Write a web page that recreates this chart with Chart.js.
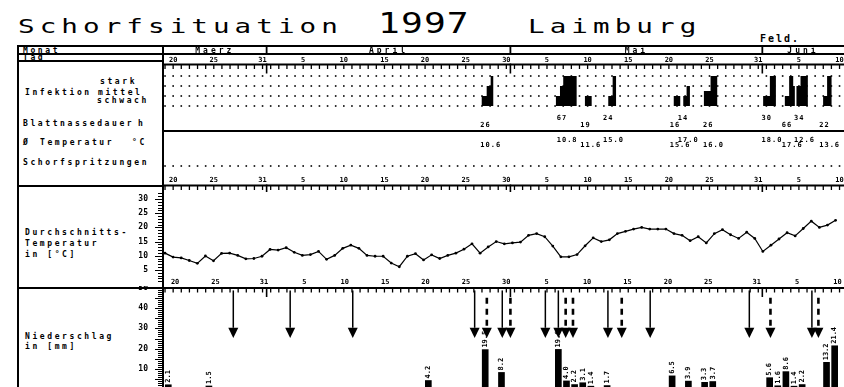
<!DOCTYPE html>
<html lang="de">
<head>
<meta charset="utf-8">
<title>Schorfsituation 1997 Laimburg</title>
<script src="https://cdn.jsdelivr.net/npm/chart.js@4.4.1/dist/chart.umd.min.js"></script>
<style>
  html, body { margin: 0; padding: 0; background: #fff; }
  #page { position: relative; width: 844px; height: 387px; overflow: hidden; background: #fff;
          font-family: "DejaVu Sans Mono", monospace; color: #000; }
  .title { position: absolute; white-space: nowrap; line-height: 1; transform-origin: 0 0; }
  .big { font-size: 19px; letter-spacing: 3.5px; transform: scaleX(1.45); }
  .year { font-size: 29px; letter-spacing: 0.9px; transform: scaleX(1.25); }
  .lab { position: absolute; white-space: nowrap; line-height: 1; font-size: 8px; font-weight: bold; letter-spacing: 2.6px; }
  .rule { position: absolute; background: #000; }
  canvas { position: absolute; left: 0; }
</style>
</head>
<body>
<div id="page">
  <div class="title big" style="left:18px; top:17px;">Schorfsituation</div>
  <div class="title year" style="left:378px; top:9px;">1997</div>
  <div class="title big" style="left:528px; top:17px;">Laimburg</div>
  <div class="lab" style="left:760px; top:33.5px; font-size:10px; letter-spacing:2px;">Feld.</div>

  <!-- frame of the table -->
  <div class="rule" style="left:17px; top:45px; width:827px; height:2px;"></div>
  <div class="rule" style="left:17px; top:53px; width:827px; height:1.5px;"></div>
  <div class="rule" style="left:17px; top:60px; width:146px; height:1.5px;"></div>
  <div class="rule" style="left:17px; top:45px; width:2px; height:342px;"></div>
  <div class="rule" style="left:162px; top:45px; width:2px; height:342px;"></div>
  <div class="rule" style="left:17px; top:185px; width:146px; height:2px;"></div>
  <div class="rule" style="left:17px; top:287px; width:146px; height:2px;"></div>

  <!-- row captions -->
  <div class="lab" style="left:23px; top:46.5px;">Monat</div>
  <div class="lab" style="left:23px; top:53.6px;">Tag</div>
  <div class="lab" style="left:100px; top:78.2px;">stark</div>
  <div class="lab" style="left:25px; top:89.2px;">Infektion</div>
  <div class="lab" style="left:98px; top:89.2px;">mittel</div>
  <div class="lab" style="left:97px; top:97.2px;">schwach</div>
  <div class="lab" style="left:23px; top:120.2px;">Blattnassedauer</div>
  <div class="lab" style="left:138px; top:120.2px;">h</div>
  <div class="lab" style="left:23px; top:139.2px;">Ø</div>
  <div class="lab" style="left:40px; top:139.2px;">Temperatur</div>
  <div class="lab" style="left:132px; top:139.2px;">°C</div>
  <div class="lab" style="left:23px; top:159.2px;">Schorfspritzungen</div>
  <div class="lab" style="left:25px; top:228.7px;">Durchschnitts-</div>
  <div class="lab" style="left:25px; top:240.2px;">Temperatur</div>
  <div class="lab" style="left:25px; top:250.7px;">in [°C]</div>
  <div class="lab" style="left:25px; top:332.7px;">Niederschlag</div>
  <div class="lab" style="left:25px; top:342.7px;">in [mm]</div>

  <canvas id="cTop" width="844" height="148" style="top:44px;"></canvas>
  <canvas id="cTemp" width="844" height="100" style="top:188px;"></canvas>
  <canvas id="cRain" width="844" height="110" style="top:286px;"></canvas>
</div>

<script>
// ---- calendar: 19. Maerz to 10. Juni, day index 0 = 19.3. ----
const monthNames = ['Maerz', 'April', 'Mai', 'Juni'];
const monthLengths = [31, 30, 31, 30];
const firstDay = 19;
const dayCount = 84;

// daily mean temperature in °C, one value per day from 19.3.
const meanTemp = [
  10.9, 9.5, 9.2, 8.3, 7.3, 9.9, 8.2, 10.8, 10.9, 10.1, 8.9, 9.0, 9.8,
  12.2, 12.0, 12.8, 11.2, 10.1, 10.4, 11.5, 8.7, 10.1, 12.6, 13.7, 12.6, 10.1,
  9.8, 9.8, 7.4, 6.1, 9.8, 10.7, 8.5, 10.3, 9.0, 10.1, 10.9, 12.3, 14.2,
  10.9, 13.1, 15.0, 14.2, 14.5, 14.8, 17.2, 17.8, 16.7, 13.4, 9.6, 9.6, 10.4,
  13.5, 16.3, 15.0, 15.6, 17.8, 18.6, 19.4, 20.0, 19.4, 19.4, 19.4, 17.8, 17.2,
  15.3, 16.7, 14.5, 17.8, 19.2, 17.4, 16.1, 18.3, 16.1, 11.5, 13.7, 15.9, 18.1,
  17.0, 19.6, 22.2, 20.0, 20.8, 22.5
];

// precipitation: day index and amount in mm
const rainDays = [0, 5, 32, 39, 41, 48, 49, 50, 51, 52, 54, 62, 64, 66, 67, 74, 75, 76, 77, 78, 81, 82];
const rainMm   = [2.1, 1.5, 4.2, 19.5, 8.2, 19.6, 4.0, 2.2, 3.1, 1.4, 1.7, 6.5, 3.9, 3.3, 3.7, 5.6, 1.6, 8.6, 1.4, 2.2, 13.2, 21.4];

// infection periods: start / end (day index) and strength 1 schwach, 2 mittel, 3 stark
const infStart = [38.97, 39.58, 40.07, 48.10, 48.60, 49.00, 51.67, 54.54, 55.08, 62.60, 63.77, 64.18,
                  66.31, 67.13, 73.60, 74.43, 76.27, 76.80, 77.30, 77.70, 78.20, 80.98, 81.47];
const infEnd   = [39.58, 40.07, 40.39, 48.60, 49.00, 50.65, 52.50, 55.08, 55.50, 63.40, 64.18, 64.59,
                  67.13, 67.95, 74.43, 75.17, 76.80, 77.30, 77.50, 78.20, 79.10, 81.47, 82.02];
const infLevel = [1, 2, 3, 1, 2, 3, 1, 1, 3, 1, 1, 2,
                  1.5, 3, 1, 3, 1, 3, 2, 2, 3, 1, 3];

// infection events: leaf wetness duration (h) and mean temperature (°C)
const eventDay  = [38.8, 48.2, 51.1, 53.9, 62.1, 63.1, 66.2, 73.4, 75.9, 77.4, 80.5];
const wetHours  = [26, 67, 19, 24, 16, 14, 26, 30, 66, 34, 22];
const eventTemp = [10.6, 10.8, 11.6, 15.0, 15.6, 17.0, 16.0, 18.0, 17.6, 12.6, 13.6];

// scab sprays (solid arrows) and dashed arrows
const sprayDays       = [8.4, 15.4, 23.1, 38.1, 41.5, 46.8, 48.4, 54.5, 59.7, 71.9, 79.6];
const sprayDaysDashed = [39.6, 42.5, 49.3, 50.2, 56.2, 74.5, 80.4];

// ---- shared settings ----
const FONT = '"DejaVu Sans Mono", monospace';
const X_MIN = -0.25, X_MAX = 83.55;
const BAR_SHIFT = 0.4;
Chart.defaults.font.family = FONT;
Chart.defaults.color = '#000';

const calendar = [];
{
  let m = 0, dom = firstDay;
  for (let i = 0; i < dayCount; i++) {
    calendar.push({ dom, m });
    dom++;
    if (dom > monthLengths[m]) { dom = 1; m++; }
  }
}
const labelled = c => (c.dom % 5 === 0 && c.dom < 30) || c.dom === monthLengths[c.m];
const monthEnds = calendar.map((c, i) => c.dom === monthLengths[c.m] ? i : -1).filter(i => i >= 0);

function xAxis() {
  return { type: 'linear', min: X_MIN, max: X_MAX, display: false, offset: false };
}

function font(size, weight) { return (weight || 'bold') + ' ' + size + 'px ' + FONT; }

// horizontal day ruler with a tick per day, long ticks at month ends
function dayRuler(chart, y, labelY) {
  const ctx = chart.ctx, xs = chart.scales.x, a = chart.chartArea;
  ctx.save();
  ctx.strokeStyle = '#000';
  ctx.fillStyle = '#000';
  ctx.lineWidth = 1.8;
  ctx.beginPath(); ctx.moveTo(a.left, y); ctx.lineTo(a.right, y); ctx.stroke();
  ctx.lineWidth = 1.3;
  for (let i = 0; i < dayCount; i++) {
    const x = xs.getPixelForValue(i);
    ctx.beginPath(); ctx.moveTo(x, y); ctx.lineTo(x, y + 4.5); ctx.stroke();
  }
  ctx.lineWidth = 1.6;
  monthEnds.forEach(i => {
    const x = xs.getPixelForValue(i + 0.5);
    ctx.beginPath(); ctx.moveTo(x, y - 1); ctx.lineTo(x, y + 9); ctx.stroke();
  });
  if (labelY !== null && labelY !== undefined) {
    ctx.font = font(7);
    ctx.textAlign = 'center';
    ctx.textBaseline = 'middle';
    calendar.forEach((c, i) => {
      if (labelled(c)) ctx.fillText(String(c.dom), xs.getPixelForValue(i), labelY);
    });
  }
  ctx.restore();
}

function dottedRow(chart, y) {
  const ctx = chart.ctx, xs = chart.scales.x;
  ctx.save();
  ctx.fillStyle = '#000';
  for (let i = 0; i < dayCount; i++) {
    const x = xs.getPixelForValue(i);
    ctx.fillRect(x - 0.8, y - 0.8, 1.6, 1.6);
  }
  ctx.restore();
}

// short and long ticks along the value axis
function valueRuler(chart) {
  const ctx = chart.ctx, ys = chart.scales.y, left = chart.chartArea.left;
  ctx.save();
  ctx.strokeStyle = '#000';
  ctx.lineWidth = 1;
  for (let v = 1; v <= ys.max; v++) {
    const y = Math.round(ys.getPixelForValue(v)) + 0.5;
    const len = v % 5 === 0 ? 8 : 5;
    ctx.beginPath(); ctx.moveTo(left - len, y); ctx.lineTo(left, y); ctx.stroke();
  }
  ctx.restore();
}

// ---- top block: months, days, infection bars, leaf wetness, temperatures ----
const infPoints = [{ x: X_MIN, y: 0 }];
for (let k = 0; k < infStart.length; k++) {
  infPoints.push({ x: infStart[k], y: infLevel[k] });
  const next = infStart[k + 1];
  if (next === undefined || next > infEnd[k] + 1e-6) infPoints.push({ x: infEnd[k], y: 0 });
}
infPoints.push({ x: X_MAX, y: 0 });

const topTable = {
  id: 'topTable',
  beforeDatasetsDraw(chart) {
    const ys = chart.scales.y;
    [0, 1, 2, 3].forEach(l => dottedRow(chart, ys.getPixelForValue(l)));
    dottedRow(chart, 122);
  },
  afterDraw(chart) {
    const ctx = chart.ctx, xs = chart.scales.x, a = chart.chartArea;
    // month row
    ctx.save();
    ctx.strokeStyle = '#000';
    ctx.fillStyle = '#000';
    ctx.lineWidth = 1.8;
    monthEnds.forEach(i => {
      const x = xs.getPixelForValue(i + 0.5);
      ctx.beginPath(); ctx.moveTo(x, 2); ctx.lineTo(x, 10); ctx.stroke();
    });
    ctx.font = font(8);
    ctx.letterSpacing = '3px';
    ctx.textAlign = 'center';
    ctx.textBaseline = 'middle';
    monthNames.forEach((name, m) => {
      const idx = calendar.map((c, i) => c.m === m ? i : -1).filter(i => i >= 0);
      if (!idx.length) return;
      const s = Math.max(X_MIN, idx[0] - 0.5), e = Math.min(X_MAX, idx[idx.length - 1] + 0.5);
      ctx.fillText(name, (xs.getPixelForValue(s) + xs.getPixelForValue(e)) / 2, 6.5);
    });
    ctx.restore();

    dayRuler(chart, 20.5, 16);
    dayRuler(chart, 141.5, 136);

    // separator between wetness and temperature rows
    ctx.save();
    ctx.strokeStyle = '#000';
    ctx.lineWidth = 1.8;
    ctx.beginPath(); ctx.moveTo(a.left, 87); ctx.lineTo(a.right, 87); ctx.stroke();

    // leaf wetness hours and mean temperature of each infection
    ctx.fillStyle = '#000';
    ctx.font = font(7);
    ctx.letterSpacing = '1px';
    ctx.textAlign = 'left';
    ctx.textBaseline = 'middle';
    eventDay.forEach((d, k) => {
      const x = xs.getPixelForValue(d);
      const low = k % 2 === 0;
      ctx.fillText(String(wetHours[k]), x, low ? 81 : 74);
      ctx.fillText(eventTemp[k].toFixed(1), x, low ? 101 : 96);
    });
    ctx.restore();
  }
};

new Chart(document.getElementById('cTop'), {
  type: 'line',
  data: {
    datasets: [{
      data: infPoints,
      stepped: 'before',
      fill: 'origin',
      backgroundColor: '#000',
      borderColor: 'rgba(0,0,0,0)',
      borderWidth: 1,
      pointRadius: 0
    }]
  },
  options: {
    responsive: false,
    animation: false,
    layout: { padding: { left: 163, right: 0, top: 0, bottom: 0 } },
    plugins: { legend: { display: false }, tooltip: { enabled: false } },
    scales: {
      x: xAxis(),
      y: { type: 'linear', min: -8.6, max: 6.2, display: false }
    }
  },
  plugins: [topTable]
});

// ---- mean temperature ----
const tempDecor = {
  id: 'tempDecor',
  afterDraw(chart) {
    valueRuler(chart);
    const ctx = chart.ctx, xs = chart.scales.x;
    ctx.save();
    ctx.fillStyle = '#000';
    ctx.font = font(7);
    ctx.textAlign = 'center';
    ctx.textBaseline = 'middle';
    calendar.forEach((c, i) => {
      if (labelled(c)) ctx.fillText(String(c.dom), xs.getPixelForValue(i) + 2, 94);
    });
    ctx.restore();
  }
};

function valueAxis(max) {
  return {
    type: 'linear', min: 0, max: max, position: 'left',
    border: { display: false },
    grid: { display: false, drawTicks: false },
    ticks: {
      stepSize: 5, includeBounds: false, padding: 15,
      font: { family: FONT, size: 8, weight: 'bold' }, color: '#000',
      callback: v => (v === 0 ? '' : String(v))
    },
    afterFit(s) { s.width = 40; s.paddingTop = 0; s.paddingBottom = 0; }
  };
}

new Chart(document.getElementById('cTemp'), {
  type: 'line',
  data: {
    datasets: [{
      data: meanTemp.map((t, i) => ({ x: i, y: t })),
      borderColor: '#000',
      borderWidth: 1.2,
      pointRadius: 1.4,
      pointBackgroundColor: '#000',
      pointBorderWidth: 0,
      tension: 0
    }]
  },
  options: {
    responsive: false,
    animation: false,
    layout: { padding: { left: 123, right: 0, top: 2, bottom: 0 } },
    plugins: { legend: { display: false }, tooltip: { enabled: false } },
    scales: { x: xAxis(), y: valueAxis(32.5) }
  },
  plugins: [tempDecor]
});

// ---- precipitation with spray arrows ----
function arrow(ctx, x, yTop, yHead, yTip, dashed) {
  ctx.save();
  ctx.strokeStyle = '#000';
  ctx.fillStyle = '#000';
  ctx.lineWidth = dashed ? 2.6 : 1.5;
  ctx.setLineDash(dashed ? [6, 5] : []);
  ctx.beginPath(); ctx.moveTo(x, yTop); ctx.lineTo(x, yHead); ctx.stroke();
  ctx.setLineDash([]);
  ctx.beginPath();
  ctx.moveTo(x - 5, yHead); ctx.lineTo(x + 5, yHead); ctx.lineTo(x, yTip);
  ctx.closePath(); ctx.fill();
  ctx.restore();
}

const rainDecor = {
  id: 'rainDecor',
  afterDraw(chart) {
    const ctx = chart.ctx, xs = chart.scales.x, ys = chart.scales.y;
    valueRuler(chart);
    dayRuler(chart, chart.chartArea.top, null);
    sprayDays.forEach(d => arrow(ctx, xs.getPixelForValue(d), ys.getPixelForValue(48.8),
      ys.getPixelForValue(30.3), ys.getPixelForValue(25.3), false));
    sprayDaysDashed.forEach(d => arrow(ctx, xs.getPixelForValue(d), ys.getPixelForValue(45.2),
      ys.getPixelForValue(30.3), ys.getPixelForValue(25.3), true));

    // amount written upward above each bar
    const meta = chart.getDatasetMeta(0);
    ctx.save();
    ctx.fillStyle = '#000';
    ctx.font = font(7);
    ctx.textAlign = 'left';
    ctx.textBaseline = 'middle';
    meta.data.forEach((bar, k) => {
      ctx.save();
      ctx.translate(bar.x, bar.y - 2);
      ctx.rotate(-Math.PI / 2);
      ctx.fillText(rainMm[k].toFixed(1), 0, 0);
      ctx.restore();
    });
    ctx.restore();
  }
};

new Chart(document.getElementById('cRain'), {
  type: 'bar',
  data: {
    datasets: [{
      data: rainDays.map((d, k) => ({ x: d + BAR_SHIFT, y: rainMm[k] })),
      backgroundColor: '#000',
      barThickness: 6
    }]
  },
  options: {
    responsive: false,
    animation: false,
    layout: { padding: { left: 123, right: 0, top: 2, bottom: 7 } },
    plugins: { legend: { display: false }, tooltip: { enabled: false } },
    scales: { x: xAxis(), y: valueAxis(50) }
  },
  plugins: [rainDecor]
});
</script>
</body>
</html>
